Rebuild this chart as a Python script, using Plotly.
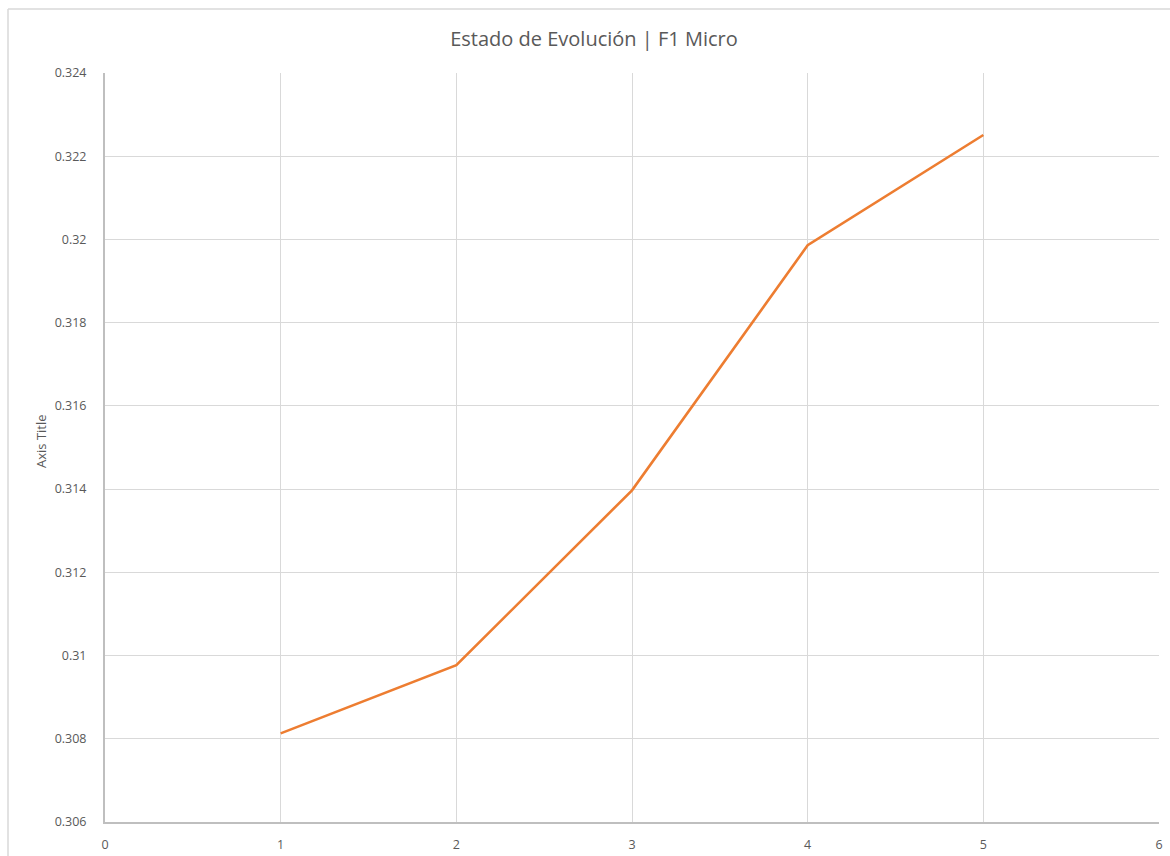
import plotly.graph_objects as go

# Evolution state series (F1 Micro score per step)
steps = [1, 2, 3, 4, 5]
f1_micro = [0.30813, 0.30977, 0.31397, 0.31986, 0.32251]

y_ticks = [0.306, 0.308, 0.31, 0.312, 0.314, 0.316, 0.318, 0.32, 0.322, 0.324]
y_tick_text = ["0.306", "0.308", "0.31", "0.312", "0.314", "0.316", "0.318", "0.32", "0.322", "0.324"]
x_ticks = [0, 1, 2, 3, 4, 5, 6]

FONT = "Open Sans, Lato, sans-serif"
GRID = "#d9d9d9"
AXIS = "#bfbfbf"
TEXT = "#595959"

fig = go.Figure()
fig.add_trace(go.Scatter(
    x=steps, y=f1_micro, mode="lines",
    line=dict(color="#ED7D31", width=2.6),
    showlegend=False,
))

fig.update_layout(
    width=1170, height=856,
    margin=dict(l=105, r=11, t=73, b=34, autoexpand=False),
    paper_bgcolor="white", plot_bgcolor="white",
    font=dict(family=FONT, color=TEXT, size=12),
    title=dict(text="Estado de Evolución | F1 Micro", x=594 / 1170, xanchor="center",
               y=1 - 39 / 856, yanchor="middle", xref="container", yref="container",
               font=dict(family=FONT, size=20, color=TEXT)),
    xaxis=dict(range=[0, 6], tickvals=x_ticks, showgrid=True, gridcolor=GRID, gridwidth=1.3,
               showline=True, linecolor=AXIS, linewidth=2, zeroline=False, automargin=False,
               ticks="", ticklabelstandoff=10, tickfont=dict(size=12.5, color=TEXT),
               mirror=False),
    yaxis=dict(range=[0.306, 0.324], tickvals=y_ticks, ticktext=y_tick_text,
               showgrid=True, gridcolor=GRID, gridwidth=1.3, automargin=False,
               showline=True, linecolor=AXIS, linewidth=2, zeroline=False,
               ticks="", ticklabelstandoff=14, tickfont=dict(size=12.5, color=TEXT)),
)

# axis title placed in pixel terms relative to the plot area
plot_w, plot_h = 1170 - 105 - 11, 856 - 73 - 34
fig.add_annotation(text="Axis Title", textangle=-90, showarrow=False,
                   xref="paper", yref="paper",
                   x=(41 - 105) / plot_w, y=(856 - 34 - 441) / plot_h,
                   xanchor="center", yanchor="middle",
                   font=dict(size=13, color=TEXT))

# outer chart frame (left and top edges visible)
fx = (8 - 105) / plot_w
fy = (856 - 34 - 9) / plot_h
fig.add_shape(type="line", xref="paper", yref="paper", x0=fx, y0=-0.2, x1=fx, y1=fy,
              line=dict(color=GRID, width=1.5))
fig.add_shape(type="line", xref="paper", yref="paper", x0=fx, y0=fy, x1=1.2, y1=fy,
              line=dict(color=GRID, width=1.5))

fig.write_html("out.html")
